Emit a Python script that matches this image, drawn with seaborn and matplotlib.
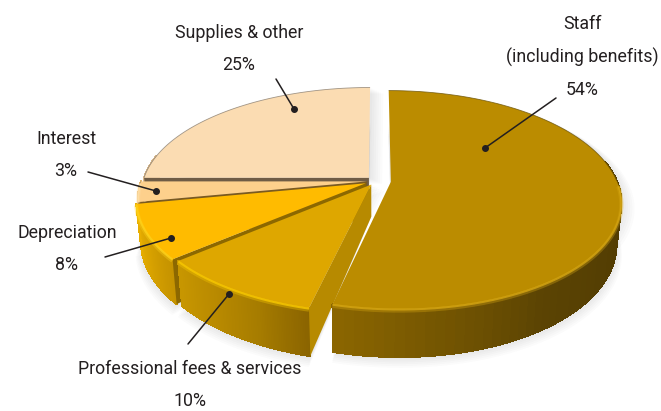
import numpy as np
import matplotlib
matplotlib.use('Agg')
import matplotlib.pyplot as plt
import seaborn as sns
from matplotlib.collections import PolyCollection
from matplotlib.colors import LinearSegmentedColormap
from matplotlib.transforms import Transform

# --- data ---
categories = ['Staff', 'Professional fees & services', 'Depreciation', 'Interest', 'Supplies & other']
shares = [54, 10, 8, 3, 25]
pull_out = [0.066, 0.04, 0.05, 0.04, 0.044]

top_colors = ['#bb8c00', '#dea700', '#ffbb00', '#fdd08c', '#fbdcb2']
rim_highlight = ['#d6a612', '#f8c800', '#ffd21a', '#ffe0a8', '#e8cda6']
back_edge = ['#6b5206', '#a67c00', '#d9a000', '#a8916c', '#8a7d6d']
face_colors = ['#9a7200', '#b78a00', '#8c6800', '#7a5a20', '#6f5c45']
wall_stops = [
    ['#6a4e00', '#6a4e00', '#4f3a02', '#5a4303', '#8a6500'],
    ['#8a6400', '#a67c00', '#b98a00', '#c79600'],
    ['#c49200', '#d8a200', '#e8ae00'],
    ['#e3b46e', '#e3b46e'],
    ['#d9b98e', '#d9b98e'],
]

label_text = ['Staff\n(including benefits)', 'Professional fees & services', 'Depreciation', 'Interest', 'Supplies & other']
label_pos = [(582, 57), (190, 385), (67, 249), (66, 155), (239, 49)]
leader_from = [(556, 98), (188, 344), (105, 257), (88, 172), (276, 79)]
leader_dot = [(485, 148), (229, 294), (171, 238), (156, 191), (294, 109)]

# projection of the pie plane onto the page (pixels)
CX, CY = 376, 181
A, B, K = 226, 106, 0.164
LEAN = 3
RIM_DEPTH, APEX_DEPTH = 40, 32


def project(u, v):
    w = 1 + K * v
    return CX + A * u / w + LEAN * v * (v - 1), CY - B * v / w, w


class PieTilt(Transform):
    input_dims = 2
    output_dims = 2
    is_separable = False
    has_inverse = False

    def transform_non_affine(self, values):
        values = np.asarray(values, dtype=float)
        x, y, _ = project(values[:, 0], values[:, 1])
        return np.column_stack([x, y])


def drop(x, y, depth):
    return CX + (x - CX) * 0.98, y + depth


sns.set_theme(style='white')
plt.rcParams['font.family'] = ['Roboto', 'DejaVu Sans']

fig = plt.figure(figsize=(6.61, 4.11), dpi=100)
ax = fig.add_axes([0, 0, 1, 1])
wedges, _ = ax.pie(shares, colors=sns.color_palette(top_colors), startangle=90,
                   counterclock=False, explode=pull_out, radius=1)
ax.set_aspect('auto')
ax.set_xlim(0, 661)
ax.set_ylim(411, 0)
ax.axis('off')

tilt = PieTilt() + ax.transData
draw_order = [4, 3, 2, 1, 0]

# --- soft shadow below everything ---
for i in draw_order:
    w_ = wedges[i]
    ang = np.radians(np.linspace(w_.theta1, w_.theta2, 80))
    u = w_.center[0] + np.cos(ang)
    v = w_.center[1] + np.sin(ang)
    x, y, w = project(u, v)
    bx, by = drop(x, y, RIM_DEPTH / w)
    ax_, ay_, _ = project(*w_.center)
    for s in range(1, 7):
        px = np.r_[ax_, bx + (bx - ax_) * 0.004 * s]
        py = np.r_[ay_ + APEX_DEPTH, by + s * 1.8]
        ax.fill(px, py, color='#555555', alpha=0.022, lw=0, zorder=0.5)
        tx = np.r_[ax_ + s * 2.2, x + s * 2.2]
        ty = np.r_[ay_ + s, y + s]
        ax.fill(tx, ty, color='#555555', alpha=0.022, lw=0, zorder=0.5)

# --- side walls, cut faces and tops, back to front ---
for rank, i in enumerate(draw_order):
    w_ = wedges[i]
    base = 1 + rank
    w_.set_transform(tilt)
    w_.set_zorder(base + 0.5)
    w_.set_edgecolor('none')

    # clockwise: theta2 is where the slice starts
    ang = np.radians(np.linspace(w_.theta2, w_.theta1, 90))
    u = w_.center[0] + np.cos(ang)
    v = w_.center[1] + np.sin(ang)
    x, y, w = project(u, v)
    bx, by = drop(x, y, RIM_DEPTH / w)
    ax_, ay_, _ = project(*w_.center)

    # radial face at the start edge (the first slice's faces away from view)
    if i != 0:
        apx, apy = drop(ax_, ay_, APEX_DEPTH)
        ax.fill([ax_, x[0], bx[0], apx], [ay_, y[0], by[0], apy],
                color=face_colors[i], lw=0, zorder=base + 0.2)

    # rim wall, only where it can be seen from the front
    cmap = LinearSegmentedColormap.from_list('wall', wall_stops[i])
    t = np.linspace(0, 1, len(x) - 1)
    quads = [[(x[j], y[j]), (x[j + 1], y[j + 1]), (bx[j + 1], by[j + 1]), (bx[j], by[j])]
             for j in range(len(x) - 1) if np.sin(ang[j]) < 0.2]
    cols = [c for j, c in enumerate(cmap(t)) if np.sin(ang[j]) < 0.2]
    if quads:
        ax.add_collection(PolyCollection(quads, facecolors=cols, edgecolors=cols, linewidths=0.8,
                                         antialiaseds=False, zorder=base + 0.1))

    # bevel along the front of the rim, thin line along the back
    front = np.sin(ang) + w_.center[1] < -0.02
    back = ~front
    if front.any():
        ax.plot(x[front], y[front] + 1.5, color=rim_highlight[i], lw=3, alpha=0.35,
                solid_capstyle='butt', zorder=base + 0.6)
        ax.plot(x[front], y[front] + 0.5, color=rim_highlight[i], lw=1.4, alpha=0.8,
                solid_capstyle='butt', zorder=base + 0.6)
    if back.any():
        ax.plot(x[back], y[back], color=back_edge[i], lw=0.6, alpha=0.8,
                solid_capstyle='butt', zorder=base + 0.6)

# --- labels and leaders ---
for i, cat in enumerate(categories):
    ax.text(label_pos[i][0], label_pos[i][1], f'{label_text[i]}\n{shares[i]}%', ha='center', va='center',
            fontsize=12.8, color='#231f20', linespacing=2.03, zorder=20)
    ax.plot([leader_from[i][0], leader_dot[i][0]], [leader_from[i][1], leader_dot[i][1]],
            color='#231f20', lw=1.1, zorder=20)
    ax.plot(leader_dot[i][0], leader_dot[i][1], 'o', color='#231f20', ms=4, zorder=20)

fig.savefig('out.png', dpi=100)
